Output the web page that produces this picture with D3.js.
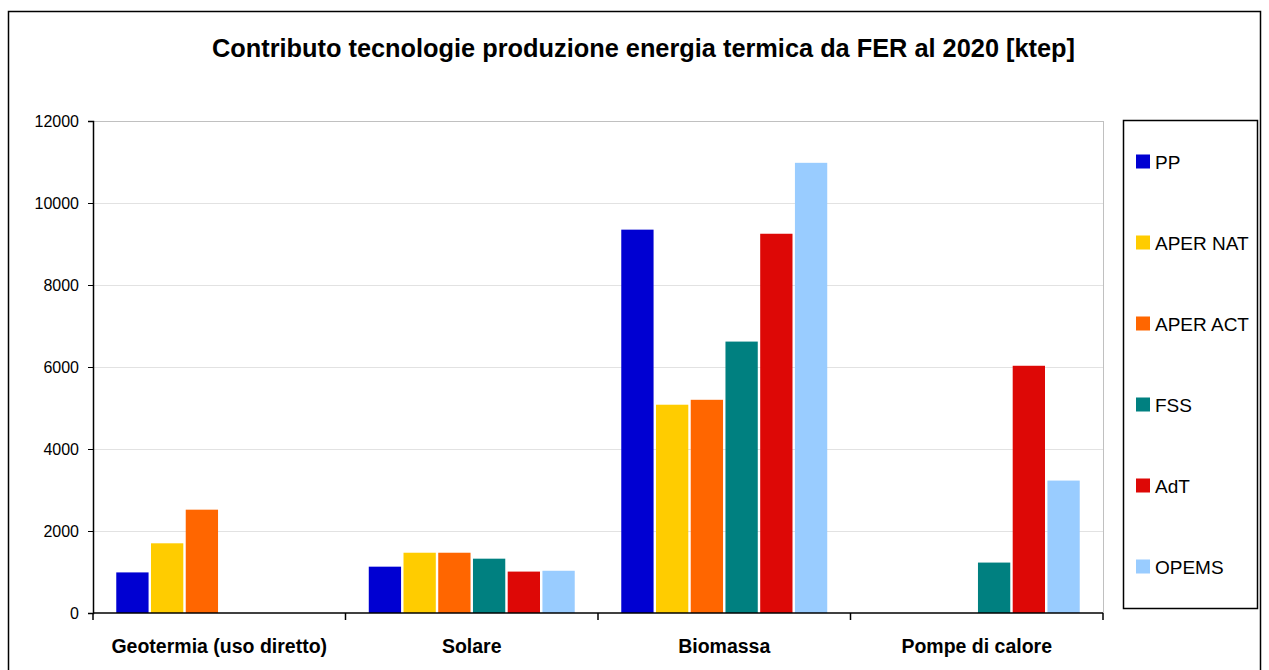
<script src="https://d3js.org/d3.v7.min.js"></script>
<style>
  body { margin: 0; background: #fff; }
  text { font-family: "Liberation Sans", Arial, sans-serif; }
</style>
<svg width="1269" height="670"></svg>
<script>
    var width = 1269, height = 670;
    var margin = ({ top: 121, right: 166, bottom: 57, left: 93 });

    // data
    var categories = ['Geotermia (uso diretto)', 'Solare', 'Biomassa', 'Pompe di calore'];
    var seriesNames = ['PP', 'APER NAT', 'APER ACT', 'FSS', 'AdT', 'OPEMS'];
    var seriesColors = ['#0000d2', '#ffcc00', '#ff6600', '#008080', '#dd0806', '#99ccff'];
    var PP = [990, 1130, 9350, 0];
    var APER_NAT = [1700, 1470, 5080, 0];
    var APER_ACT = [2520, 1470, 5200, 0];
    var FSS = [0, 1325, 6620, 1230];
    var AdT = [0, 1010, 9250, 6030];
    var OPEMS = [0, 1030, 10980, 3230];
    var yTicks = [0, 2000, 4000, 6000, 8000, 10000, 12000];

    var seriesValues = [PP, APER_NAT, APER_ACT, FSS, AdT, OPEMS];
    var rows = [];
    categories.forEach(function(c, i) {
        seriesNames.forEach(function(s, j) {
            rows.push({ cat: c, series: s, value: seriesValues[j][i] });
        });
    });

    var svg = d3.select('svg');

    // outer chart border
    svg.append('rect')
        .attr('x', 8.5).attr('y', 11.5)
        .attr('width', 1252).attr('height', 680)
        .attr('fill', 'none').attr('stroke', '#000').attr('stroke-width', 1.5);

    var x0 = d3.scaleBand()
        .domain(categories)
        .range([margin.left, width - margin.right])
        .padding(0);
    var x1 = d3.scaleBand()
        .domain(seriesNames)
        .range([0, x0.bandwidth()])
        .paddingInner(0.07)
        .paddingOuter(0.67);
    var y = d3.scaleLinear()
        .domain([0, 12000])
        .range([height - margin.bottom, margin.top]);
    var color = d3.scaleOrdinal(seriesNames, seriesColors);

    // gridlines
    svg.append('g')
        .selectAll('line')
        .data(yTicks.slice(1))
        .join('line')
        .attr('x1', margin.left).attr('x2', width - margin.right)
        .attr('y1', d => y(d) + 0.5).attr('y2', d => y(d) + 0.5)
        .attr('stroke', d => d === 12000 ? '#c0c0c0' : '#e2e2e2')
        .attr('stroke-width', 1);
    // right edge of plot area
    svg.append('line')
        .attr('x1', width - margin.right + 0.5).attr('x2', width - margin.right + 0.5)
        .attr('y1', margin.top).attr('y2', height - margin.bottom)
        .attr('stroke', '#c0c0c0');

    // bars
    svg.append('g')
        .selectAll('rect')
        .data(rows.filter(d => d.value > 0))
        .join('rect')
        .attr('x', d => x0(d.cat) + x1(d.series))
        .attr('y', d => y(d.value))
        .attr('width', x1.bandwidth())
        .attr('height', d => y(0) - y(d.value))
        .attr('fill', d => color(d.series));

    // y axis
    var yAxis = svg.append('g')
        .attr('transform', `translate(${margin.left},0)`)
        .call(d3.axisLeft(y).tickValues(yTicks).tickSize(5).tickPadding(9).tickFormat(d3.format('d')));
    yAxis.select('.domain').attr('stroke', '#000').attr('stroke-width', 1.5);
    yAxis.selectAll('text')
        .attr('font-family', '"Liberation Sans", Arial, sans-serif')
        .attr('font-size', 16).attr('fill', '#000');

    // x axis
    var xAxis = svg.append('g')
        .attr('transform', `translate(0,${height - margin.bottom})`);
    xAxis.append('line')
        .attr('x1', margin.left).attr('x2', width - margin.right)
        .attr('stroke', '#000').attr('stroke-width', 1.5);
    xAxis.selectAll('.tk')
        .data(categories.concat(['end']))
        .join('line')
        .attr('class', 'tk')
        .attr('x1', (d, i) => i < categories.length ? x0(d) : width - margin.right)
        .attr('x2', (d, i) => i < categories.length ? x0(d) : width - margin.right)
        .attr('y1', 0).attr('y2', 7)
        .attr('stroke', '#000').attr('stroke-width', 1.5);
    xAxis.selectAll('.lbl')
        .data(categories)
        .join('text')
        .attr('class', 'lbl')
        .attr('x', d => x0(d) + x0.bandwidth() / 2)
        .attr('y', 40)
        .attr('text-anchor', 'middle')
        .attr('font-size', 20)
        .attr('font-weight', 'bold')
        .text(d => d)
        .each(function() {
            var w = this.getComputedTextLength();
            d3.select(this).attr('textLength', w * 0.975).attr('lengthAdjust', 'spacingAndGlyphs');
        });

    // title
    svg.append('text')
        .attr('x', 643.5).attr('y', 57)
        .attr('text-anchor', 'middle')
        .attr('font-size', 25)
        .attr('font-weight', 'bold')
        .attr('textLength', 863)
        .attr('lengthAdjust', 'spacingAndGlyphs')
        .text('Contributo tecnologie produzione energia termica da FER al 2020 [ktep]');

    // legend
    var legend = svg.append('g');
    legend.append('rect')
        .attr('x', 1123.5).attr('y', 120.5)
        .attr('width', 134).attr('height', 488)
        .attr('fill', '#fff').attr('stroke', '#000').attr('stroke-width', 1.5);
    var ly = d3.scalePoint().domain(seriesNames).range([161.5, 566.5]);
    var item = legend.selectAll('g.item')
        .data(seriesNames)
        .join('g')
        .attr('class', 'item')
        .attr('transform', d => `translate(1136,${ly(d)})`);
    item.append('rect')
        .attr('x', 0).attr('y', -7)
        .attr('width', 14).attr('height', 14)
        .attr('fill', d => color(d));
    item.append('text')
        .attr('x', 19).attr('y', 7)
        .attr('font-size', 19)
        .attr('fill', '#000')
        .text(d => d);
</script>
